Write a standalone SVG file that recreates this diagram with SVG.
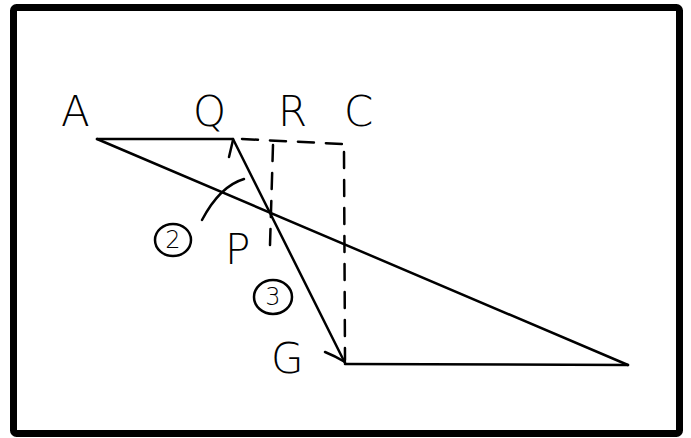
<svg xmlns="http://www.w3.org/2000/svg" width="691" height="438" viewBox="0 0 691 438">
<style>
.ln{fill:none;stroke:#000;stroke-width:2.5;stroke-linecap:round;stroke-linejoin:round}
.ds{fill:none;stroke:#000;stroke-width:2.5;stroke-linecap:round;stroke-dasharray:16 12}
.lb{font-family:"DejaVu Sans","Liberation Sans",sans-serif;font-size:42px;font-weight:200;fill:#000}
.nm{font-family:"DejaVu Sans","Liberation Sans",sans-serif;font-size:24px;font-weight:200;fill:#000}
</style>
<rect x="13.5" y="7.5" width="666" height="426" rx="3" fill="#fff" stroke="#000" stroke-width="7"/>
<g id="connectors">
<path class="ln" d="M97 139 L233 139"/>
<path class="ln" d="M97 139 L628 365"/>
<path class="ln" d="M345 364 L628 365"/>
<path class="ln" d="M233 139 L345 363"/>
<path class="ln" d="M229 157 L233 140"/>
<path class="ln" d="M325 352 Q335 356 345 362"/>
<path class="ln" d="M202 220 Q220 186 244 179"/>
<path class="ds" d="M242 139 L343 144"/>
<path class="ds" d="M344 152 L345 360"/>
<path class="ds" d="M273 145 L270 245"/>
</g>
<g id="A"><text class="lb" x="61" y="126">A</text></g>
<g id="Q"><text class="lb" x="193" y="126">Q</text></g>
<g id="R"><text class="lb" x="278" y="126">R</text></g>
<g id="C"><text class="lb" x="344" y="126">C</text></g>
<g id="P"><text class="lb" x="225" y="264">P</text></g>
<g id="G"><text class="lb" x="271" y="373">G</text></g>
<g id="n2"><ellipse class="ln" cx="173" cy="240" rx="18" ry="16" stroke-width="2"/><text class="nm" x="173" y="248" text-anchor="middle">2</text></g>
<g id="n3"><ellipse class="ln" cx="273" cy="297" rx="19" ry="17" stroke-width="2"/><text class="nm" x="273" y="305" text-anchor="middle">3</text></g>
</svg>
